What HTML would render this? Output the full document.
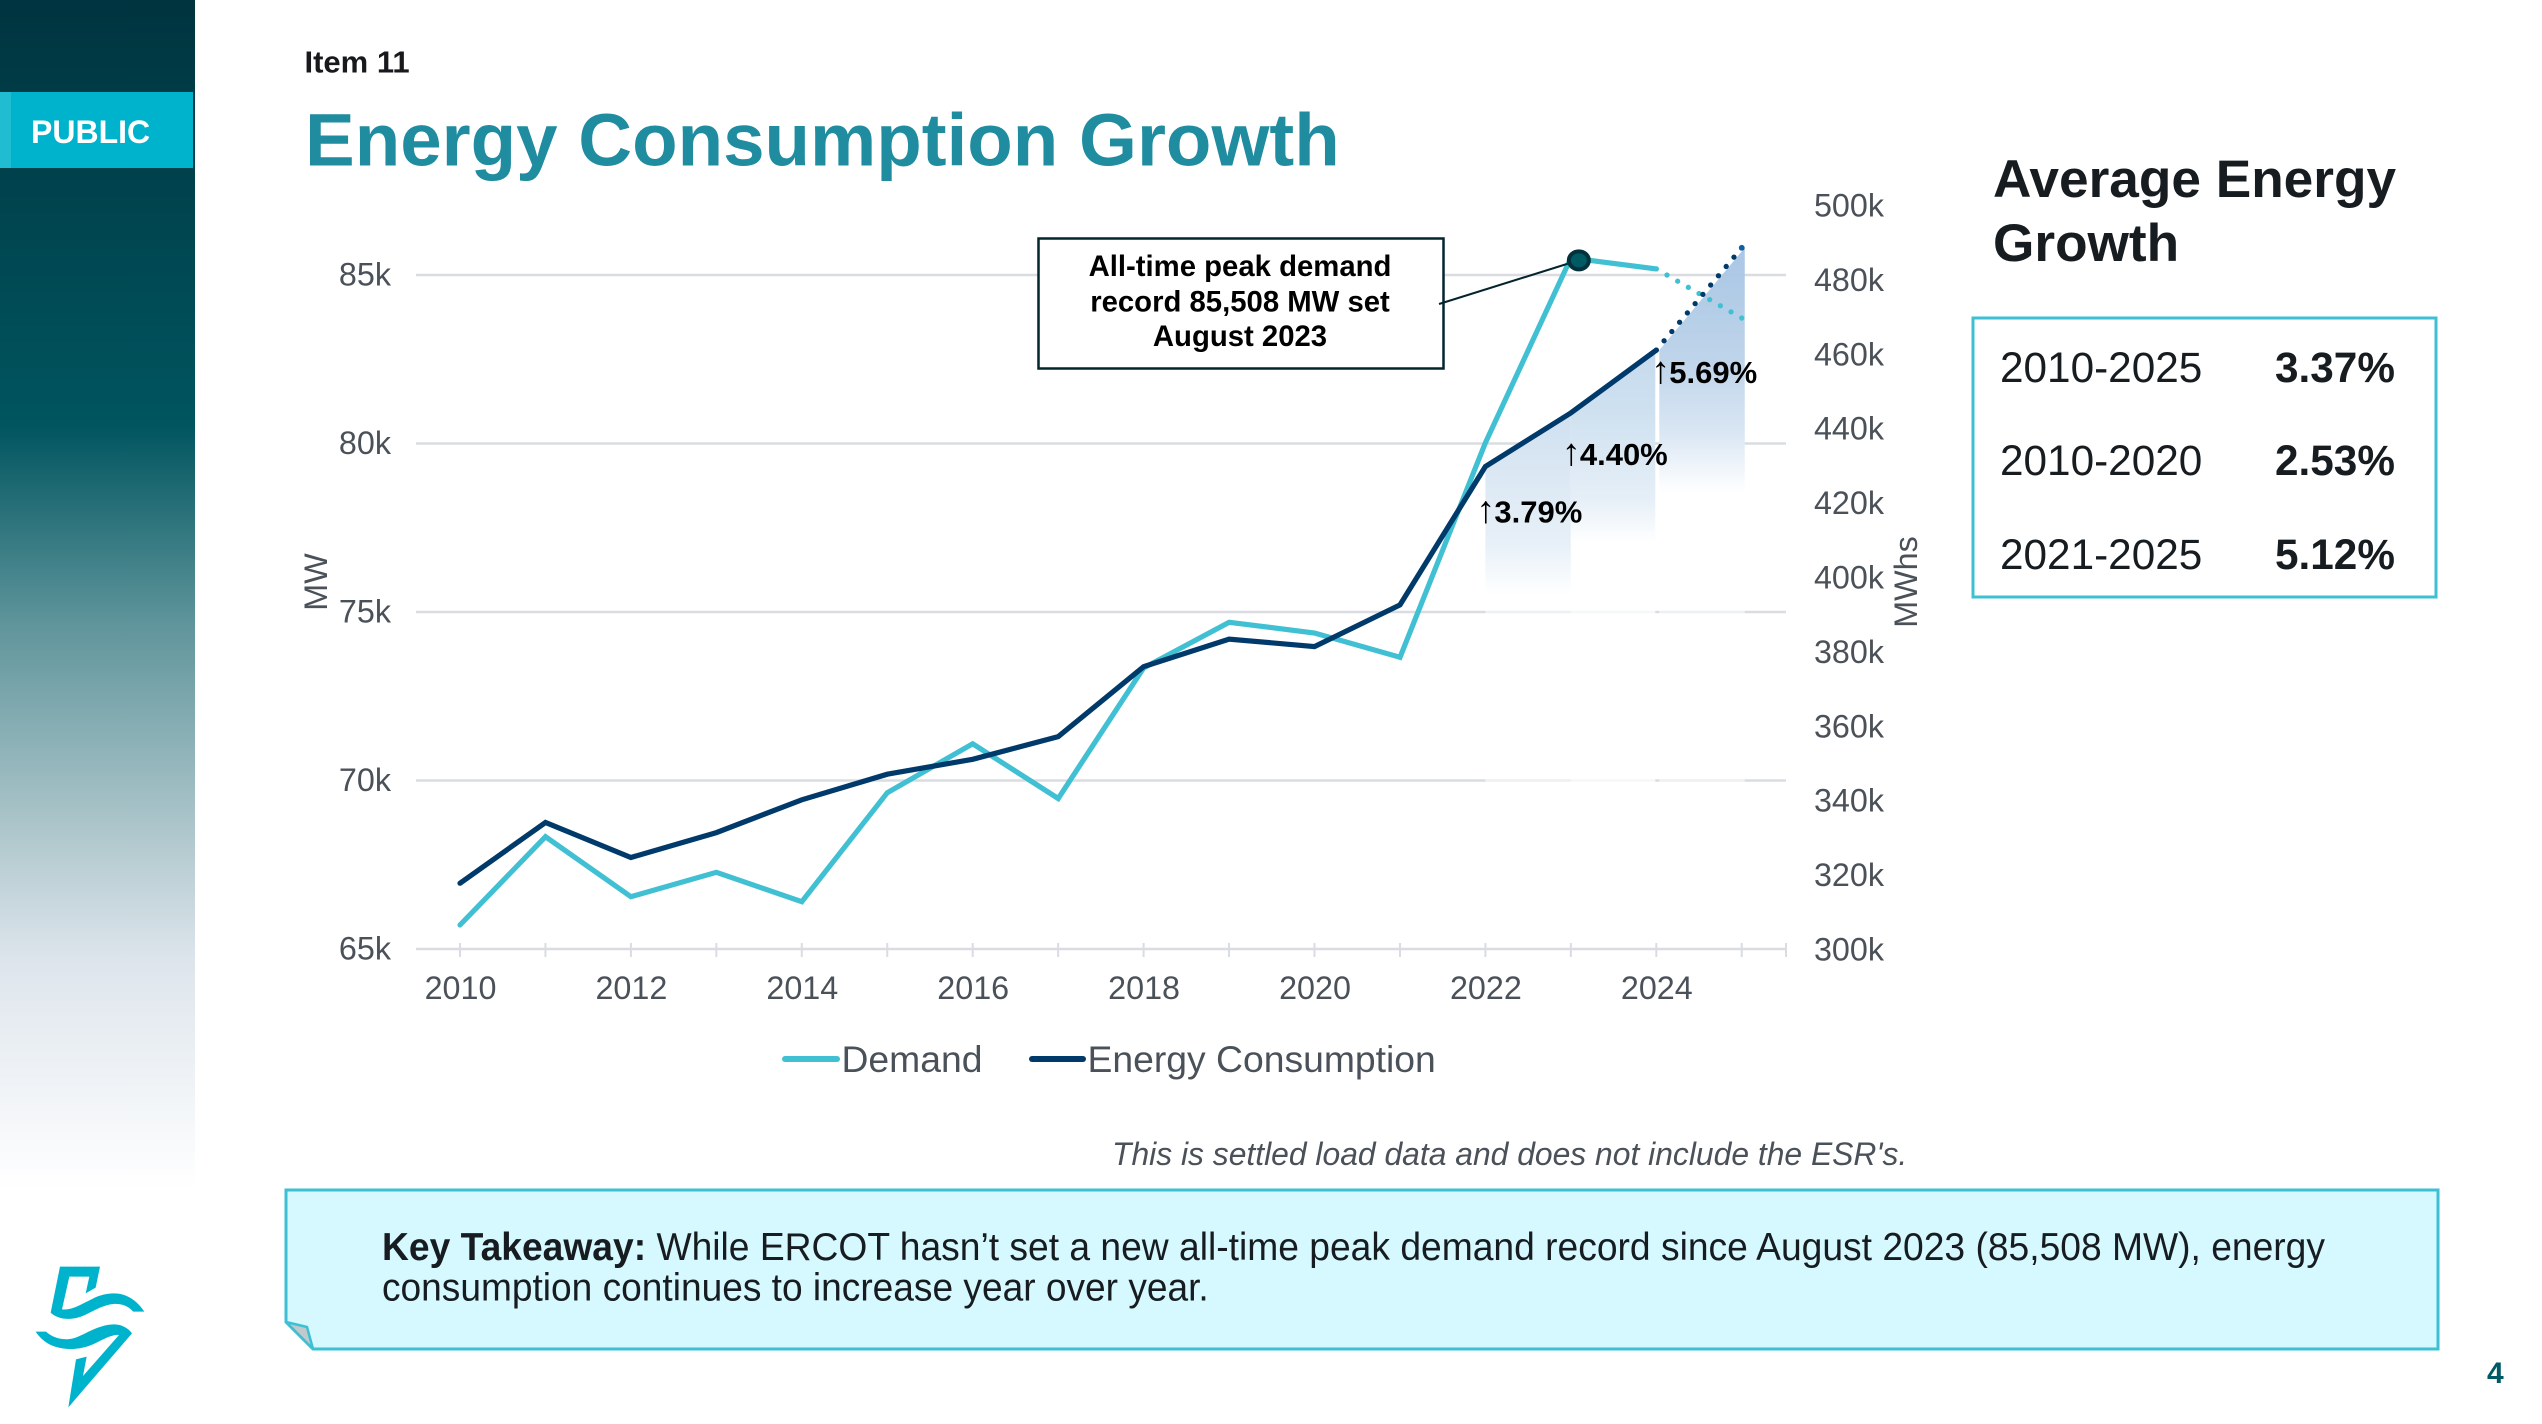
<!DOCTYPE html>
<html lang="en">
<head>
<meta charset="utf-8">
<title>Energy Consumption Growth</title>
<style>
html,body{margin:0;padding:0;background:#fff;width:2542px;height:1424px;overflow:hidden}
svg{display:block}
text{font-family:"Liberation Sans",Arial,sans-serif}
.tick{font-size:32.3px;fill:#4b5159}
.bold{font-weight:700}
</style>
</head>
<body>
<svg id="slide" xmlns="http://www.w3.org/2000/svg" width="2542" height="1424" viewBox="0 0 2542 1424">
<defs>
<linearGradient id="sideGrad" x1="0" y1="0" x2="0" y2="1">
<stop offset="0" stop-color="#00343f"/>
<stop offset="0.357" stop-color="#00555f"/>
<stop offset="0.525" stop-color="#5f959b"/>
<stop offset="0.714" stop-color="#b5cbd0"/>
<stop offset="0.807" stop-color="#dde5ec"/>
<stop offset="1" stop-color="#ffffff"/>
</linearGradient>
<linearGradient id="band0" x1="0" y1="0" x2="0" y2="1">
<stop offset="0" stop-color="#cfe0f0"/>
<stop offset="0.3" stop-color="#dae7f3"/>
<stop offset="0.72" stop-color="#e7f0f8"/>
<stop offset="1" stop-color="#ffffff"/>
</linearGradient>
<linearGradient id="band1" x1="0" y1="0" x2="0" y2="1">
<stop offset="0" stop-color="#c5daee"/>
<stop offset="0.33" stop-color="#cfe1f0"/>
<stop offset="0.78" stop-color="#e6eff7"/>
<stop offset="1" stop-color="#ffffff"/>
</linearGradient>
<linearGradient id="band2" x1="0" y1="0" x2="0" y2="1">
<stop offset="0" stop-color="#a4c3e2" stop-opacity="0.94"/>
<stop offset="0.45" stop-color="#bed4ea"/>
<stop offset="0.75" stop-color="#d9e6f3"/>
<stop offset="1" stop-color="#ffffff"/>
</linearGradient>
</defs>

<rect x="0" y="0" width="195" height="1190" fill="url(#sideGrad)"/>
<rect x="0" y="92" width="193" height="76" fill="#00b3cc"/>
<rect x="0" y="92" width="11" height="76" fill="#1fbcd2"/>
<text x="31" y="143" font-size="32" class="bold" fill="#ffffff">PUBLIC</text>

<text x="304.5" y="72.5" font-size="31" class="bold" fill="#17191c">Item 11</text>
<text x="305" y="165.5" font-size="74.5" class="bold" fill="#1f8ca0">Energy Consumption Growth</text>

<g id="chart"></g>

<text x="1993" y="197" font-size="53.2" class="bold" fill="#171c20">Average Energy</text>
<text x="1993" y="261" font-size="53.2" class="bold" fill="#171c20">Growth</text>
<rect x="1973" y="318" width="463" height="279" fill="none" stroke="#3dbfd4" stroke-width="3"/>
<g font-size="42.3" fill="#171c20">
<text x="2000" y="382">2010-2025</text>
<text x="2275" y="382" class="bold">3.37%</text>
<text x="2000" y="475">2010-2020</text>
<text x="2275" y="475" class="bold">2.53%</text>
<text x="2000" y="569">2021-2025</text>
<text x="2275" y="569" class="bold">5.12%</text>
</g>

<text transform="translate(1112,1165) scale(0.98,1)" x="0" y="0" font-size="32.5" font-style="italic" fill="#4b5159">This is settled load data and does not include the ESR's.</text>

<path d="M286 1190 L2438 1190 L2438 1349 L313 1349 L286 1322 Z" fill="#d5f9ff" stroke="#3dbfd4" stroke-width="3"/>
<path d="M286 1322 L307 1327 L313 1349 Z" fill="#c0c9cc" stroke="#3dbfd4" stroke-width="2.5" stroke-linejoin="round"/>
<text transform="translate(382,1260) scale(0.9546,1)" x="0" y="0" font-size="39" fill="#171c20"><tspan class="bold">Key Takeaway:</tspan> While ERCOT hasn’t set a new all-time peak demand record since August 2023 (85,508 MW), energy</text>
<text transform="translate(382,1300.5) scale(0.9515,1)" x="0" y="0" font-size="39" fill="#171c20">consumption continues to increase year over year.</text>

<g transform="translate(0,1150) scale(0.33333)" fill="#00b3cc">
<path d="M180 350 L300 350 L287 413 L257 430 L268 380 L208 380 L186 478 C215 482 245 462 280 445 C305 433 330 428 355 431 C390 436 415 458 433 485 L400 485 C385 468 365 460 340 462 C310 465 285 480 255 495 C215 513 175 510 152 488 Z"/>
<path d="M107 545 L138 545 C160 565 190 572 220 565 C250 557 290 525 340 523 C365 522 385 535 396 550 L205 772 L228 628 L260 620 L249 678 L357 555 C340 552 315 565 285 580 C250 597 205 603 165 590 C140 582 120 565 107 545 Z"/>
</g>
<text x="2487" y="1383" font-size="30" class="bold" fill="#005a66">4</text>
</svg>

<script>
var years = [2010,2011,2012,2013,2014,2015,2016,2017,2018,2019,2020,2021,2022,2023,2024,2025];
var demandValues = [65712,68332,66552,67276,66404,69638,71090,69466,73338,74694,74377,73656,80020,85508,85180,83720];
var energyValues = [317.7,334,324.6,331.3,340.1,347,351,357.1,375.9,383.3,381.3,392.5,429.7,444.1,461,488.5];
var leftTicks = [65000,70000,75000,80000,85000];
var leftTickLabels = ['65k','70k','75k','80k','85k'];
var rightTicks = [300,320,340,360,380,400,420,440,460,480,500];
var rightTickLabels = ['300k','320k','340k','360k','380k','400k','420k','440k','460k','480k','500k'];
var xTickYears = [2010,2012,2014,2016,2018,2020,2022,2024];
var bandYears = [2022,2023,2024];
var bandLabels = ['3.79%','4.40%','5.69%'];

var NS = 'http://www.w3.org/2000/svg';
var chart = document.getElementById('chart');

function xScale(year){ return 460 + (year - 2010) * 85.45; }
function yLeft(v){ return 949 - (v - 65000) * 0.0337; }
function yRight(k){ return 949 - (k - 300) * 3.72; }

function make(tag, parent){
  var el = document.createElementNS(NS, tag);
  (parent || chart).appendChild(el);
  return el;
}
function setAll(el, pairs){
  for (var k in pairs) el.setAttribute(k, pairs[k]);
}
function pointsOf(values, scale, from, to){
  var out = [];
  for (var i = from; i <= to; i++) out.push(xScale(years[i]).toFixed(1) + ',' + scale(values[i]).toFixed(1));
  return out.join(' ');
}
function dotSpacing(values, scale, from, to){
  var dx = xScale(years[to]) - xScale(years[from]);
  var dy = scale(values[to]) - scale(values[from]);
  var len = Math.sqrt(dx * dx + dy * dy);
  return (len / Math.round(len / 12.2)) * 0.9995;
}

var GRID = '#d9dde1';
var AXIS_LEFT = 416, AXIS_RIGHT = 1786;

/* gridlines and left labels */
leftTicks.forEach(function(v, i){
  var y = yLeft(v);
  var line = make('line');
  
  
  setAll(line, {x1:AXIS_LEFT, x2:AXIS_RIGHT, y1:y, y2:y, stroke:GRID, 'stroke-width':2.5});
  var t = make('text');
  
  
  setAll(t, {x:391, y:y + 10.5, 'text-anchor':'end', 'class':'tick'});
  t.textContent = leftTickLabels[i];
});

/* right labels */
rightTicks.forEach(function(k, i){
  var t = make('text');
  
  
  setAll(t, {x:1884, y:yRight(k) + 11.5, 'text-anchor':'end', 'class':'tick', 'font-size':32});
  t.textContent = rightTickLabels[i];
});

/* x ticks */
years.forEach(function(yr){
  var tick = make('line');
  
  
  setAll(tick, {x1:xScale(yr), x2:xScale(yr), y1:943, y2:957, stroke:GRID, 'stroke-width':2});
});
var endTick = make('line');


setAll(endTick, {x1:AXIS_RIGHT, x2:AXIS_RIGHT, y1:943, y2:957, stroke:GRID, 'stroke-width':2});

xTickYears.forEach(function(yr){
  var t = make('text');
  
  
  setAll(t, {x:xScale(yr) + 0.5, y:999, 'text-anchor':'middle', 'class':'tick'});
  t.textContent = String(yr);
});

/* growth bands under the energy line */
var bandBottoms = [595, 542, 493];
var bandFadeAlpha = [0.55, 0.75, 0.55];
bandYears.forEach(function(yr, i){
  var idx = years.indexOf(yr);
  var gapL = i === 2 ? 3 : 0;
  var gapR = i === 1 ? -1 : 0;
  var x0 = xScale(yr) + gapL, x1 = xScale(yr + 1) + (i === 2 ? 3 : gapR);
  var ya = yRight(energyValues[idx]), yb = yRight(energyValues[idx + 1]);
  var fade = make('rect');
  
  
  setAll(fade, {x:x0, y:bandBottoms[i], width:x1 - x0, height:790 - bandBottoms[i], fill:'#ffffff', 'fill-opacity':bandFadeAlpha[i]});
  var band = make('polygon');
  
  
  setAll(band, {points:x0 + ',' + ya + ' ' + x1 + ',' + yb + ' ' + x1 + ',' + bandBottoms[i] + ' ' + x0 + ',' + bandBottoms[i], fill:'url(#band' + i + ')'});
});

/* series: solid through 2024, dotted for 2025 */
var demandSolid = make('polyline');


setAll(demandSolid, {points:pointsOf(demandValues, yLeft, 0, 14), fill:'none', stroke:'#41c0d3', 'stroke-width':5.2, 'stroke-linecap':'round', 'stroke-linejoin':'miter'});

var demandGap = dotSpacing(demandValues, yLeft, 14, 15);
var demandDots = make('polyline');


setAll(demandDots, {points:pointsOf(demandValues, yLeft, 14, 15), fill:'none', stroke:'#41c0d3', 'stroke-width':5.3, 'stroke-linecap':'round', 'stroke-dasharray':'0 ' + demandGap});

var energySolid = make('polyline');


setAll(energySolid, {points:pointsOf(energyValues, yRight, 0, 14), fill:'none', stroke:'#003a6b', 'stroke-width':5.2, 'stroke-linecap':'round', 'stroke-linejoin':'miter'});

var energyGap = dotSpacing(energyValues, yRight, 14, 15);
var energyDots = make('polyline');


setAll(energyDots, {points:pointsOf(energyValues, yRight, 14, 15), fill:'none', stroke:'#003a6b', 'stroke-width':5.3, 'stroke-linecap':'round', 'stroke-dasharray':'0 ' + energyGap});

var energyEndDot = make('circle');


setAll(energyEndDot, {cx:xScale(2025), cy:yRight(energyValues[energyValues.length - 1]), r:2.9, fill:'#0b5ea8'});

/* growth labels */
var bandLabelOffsets = [56, 52, 33];
bandLabels.forEach(function(lbl, i){
  var yr = bandYears[i];
  var idx = years.indexOf(yr);
  var bx = xScale(yr) + (i === 2 ? 4 : 0);
  var t = make('text');
  
  
  setAll(t, {y:yRight(energyValues[idx]) + bandLabelOffsets[i], 'font-size':31, fill:'#000000'});
  var arrow = make('tspan', t);
  
  
  setAll(arrow, {x:bx - 9, 'font-weight':400, 'font-size':38});
  arrow.textContent = '\u2191';
  var val = make('tspan', t);
  
  
  setAll(val, {x:bx + 9, 'font-weight':700});
  val.textContent = lbl;
});

/* peak callout */
var peakIdx = years.indexOf(2023);
var peakX = xScale(2023) + 8, peakY = yLeft(demandValues[peakIdx]) + 2.5;

var calloutBox = make('rect');


setAll(calloutBox, {x:1038.5, y:238.5, width:405, height:130, fill:'#ffffff', stroke:'#03242d', 'stroke-width':2.5});
var calloutLines = ['All-time peak demand','record 85,508 MW set','August 2023'];
var calloutBaselines = [276, 311.5, 346];
calloutLines.forEach(function(s, i){
  var t = make('text');
  
  
  setAll(t, {x:1240, y:calloutBaselines[i], 'text-anchor':'middle', 'font-size':29.3, 'font-weight':700, fill:'#000000'});
  t.textContent = s;
});
var leader = make('line');


setAll(leader, {x1:1439, y1:304, x2:peakX - 10, y2:peakY + 3, stroke:'#03242d', 'stroke-width':2});
var marker = make('ellipse');


setAll(marker, {cx:peakX, cy:peakY, rx:10, ry:9, fill:'#005a63', stroke:'#04323c', 'stroke-width':4});

/* axis titles */
var mw = make('text');


setAll(mw, {transform:'translate(327,582) rotate(-90)', 'text-anchor':'middle', 'class':'tick'});
mw.textContent = 'MW';
var mwh = make('text');


setAll(mwh, {transform:'translate(1917,582) rotate(-90)', 'text-anchor':'middle', 'class':'tick'});
mwh.textContent = 'MWhs';

/* legend */
var legendDemandLine = make('line');


setAll(legendDemandLine, {x1:785, x2:837, y1:1059, y2:1059, stroke:'#41c0d3', 'stroke-width':6, 'stroke-linecap':'round'});
var legendDemandText = make('text');


setAll(legendDemandText, {x:841.5, y:1072, 'font-size':37.3, fill:'#4b5159'});
legendDemandText.textContent = 'Demand';
var legendEnergyLine = make('line');


setAll(legendEnergyLine, {x1:1032, x2:1083, y1:1059, y2:1059, stroke:'#003a6b', 'stroke-width':6, 'stroke-linecap':'round'});
var legendEnergyText = make('text');


setAll(legendEnergyText, {x:1087.5, y:1072, 'font-size':37.3, fill:'#4b5159'});
legendEnergyText.textContent = 'Energy Consumption';
</script>
</body>
</html>
